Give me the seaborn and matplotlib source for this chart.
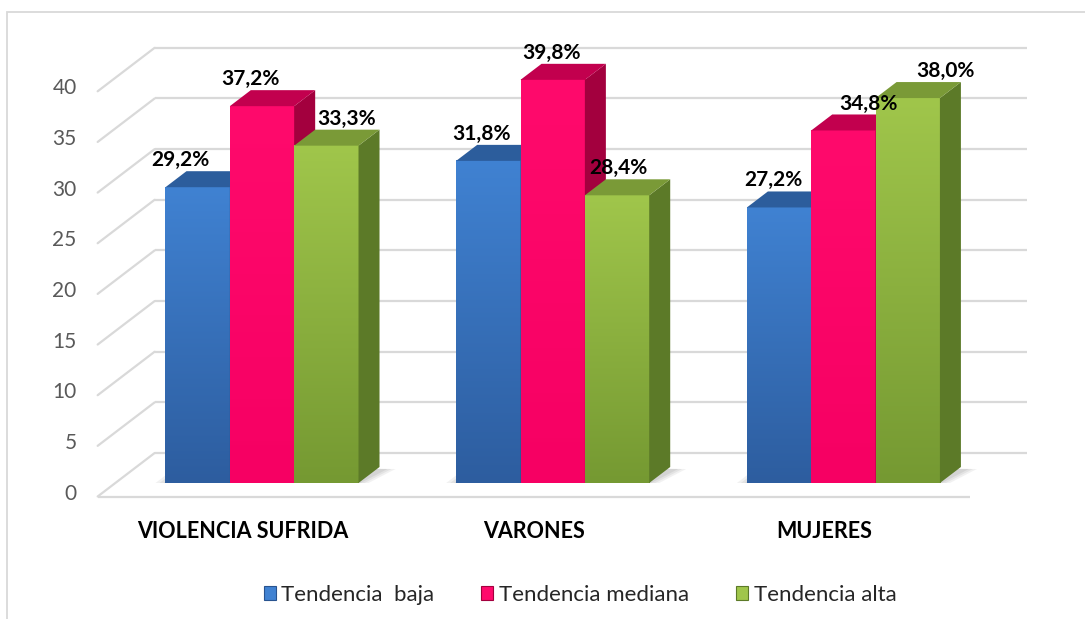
"""
Recreate the 3D-style grouped bar chart (tendencias de violencia) with seaborn.
"""
import matplotlib
matplotlib.use('Agg')
import numpy as np
import pandas as pd
import matplotlib.pyplot as plt
import seaborn as sns
from matplotlib.patches import Polygon, Patch, Rectangle
from matplotlib.colors import LinearSegmentedColormap

# data
grupos = ["VIOLENCIA SUFRIDA", "VARONES", "MUJERES"]
tendencias = ["Tendencia  baja", "Tendencia mediana", "Tendencia alta"]
baja = [29.2, 31.8, 27.2]
mediana = [37.2, 39.8, 34.8]
alta = [33.3, 28.4, 38.0]
yticks = [0, 5, 10, 15, 20, 25, 30, 35, 40]

df = pd.DataFrame({
    'grupo': grupos * 3,
    'tendencia': np.repeat(tendencias, 3),
    'valor': baja + mediana + alta,
})

# colours per series: (front top, front bottom, side, top face)
estilos = [
    ('#4082d2', '#2d5d9f', '#28538f', '#2c5d9c'),
    ('#ff0a6c', '#f60063', '#a3003e', '#c2004e'),
    ('#a0c64b', '#759932', '#5c7a28', '#7a9a37'),
]
paleta = ['#3a78c9', '#ff0066', '#8db441']
GRID = '#d9d9d9'

# small horizontal nudges (px) of the value labels, bar order left to right
nudge_px = [-17, -12, 20, -7, -1, 1, -6, 25, 38]

sns.set_style('white')
plt.rcParams['font.family'] = ['Lato', 'DejaVu Sans']

W, H = 1085, 619
fig = plt.figure(figsize=(W / 100, H / 100), dpi=100)
ax = fig.add_axes([0, 0, 1, 1])

sns.barplot(data=df, x='grupo', y='valor', hue='tendencia', order=grupos,
            hue_order=tendencias, palette=paleta, width=0.664, saturation=1,
            errorbar=None, legend=False, ax=ax)

# pixel mapping of the bar plane
X0_PX, Y0_PX = 262, 483
SX, SY = 290.7, 10.13
ax.set_xlim(-X0_PX / SX, (W - X0_PX) / SX)
ax.set_ylim(-(H - Y0_PX) / SY, Y0_PX / SY)
ax.axis('off')

# depth offsets in pixels (x right, y up)
BAR_D = (21, 16)
FRONT = (-19, -13.5)
BACK = (38, 30)


def shift(x, y, off):
    return x + off[0] / SX, y + off[1] / SY


# walls and gridlines
for v in yticks:
    bx0, by = shift(-0.5, v, BACK)
    bx1, _ = shift(2.5, v, BACK)
    fx, fy = shift(-0.5, v, FRONT)
    ax.plot([bx0, bx1], [by, by], color=GRID, lw=1.6, zorder=1,
            solid_capstyle='butt')
    ax.plot([fx, bx0], [fy, by], color=GRID, lw=1.6, zorder=1)
    ax.text(fx - 21 / SX, fy + 3 / SY, str(v), ha='right', va='center',
            fontsize=15, color='#595959')

fx0, fy0 = shift(-0.5, 0, FRONT)
fx1, _ = shift(2.5, 0, FRONT)
ax.plot([fx0, fx1], [fy0, fy0], color=GRID, lw=1.6, zorder=1,
        solid_capstyle='butt')

# 3D faces on top of seaborn bars
bars = sorted(list(ax.patches), key=lambda p: p.get_x())
dx, dy = BAR_D[0] / SX, BAR_D[1] / SY
grad = np.linspace(0, 1, 256).reshape(-1, 1)

for i, p in enumerate(bars):
    top_c, bot_c, side_c, tface_c = estilos[i % 3]
    x0, w, h = p.get_x(), p.get_width(), p.get_height()
    z = 3 + i * 0.1
    p.set_zorder(z)
    p.set_linewidth(0)

    # soft floor shadow around each group
    if i % 3 == 2:
        gx0 = bars[i - 2].get_x()
        for k, a in enumerate([0.10, 0.12, 0.14]):
            e = 10 - 4 * k
            sh = Polygon([(gx0 - e / SX, 0), (x0 + w + e / SX, 0),
                          (x0 + w + dx + (e + 6) / SX, dy - 2 / SY),
                          (gx0 + dx - e / SX, dy)],
                         fc='#7f7f7f', alpha=a, lw=0, zorder=2)
            ax.add_patch(sh)

    cmap = LinearSegmentedColormap.from_list('g%d' % i, [bot_c, top_c])
    ax.imshow(grad, extent=[x0, x0 + w, 0, h], origin='lower', cmap=cmap,
              aspect='auto', zorder=z + 0.01, interpolation='bicubic')

    side = Polygon([(x0 + w, 0), (x0 + w + dx, dy), (x0 + w + dx, h + dy),
                    (x0 + w, h)], fc=side_c, lw=0, zorder=z + 0.02)
    top = Polygon([(x0, h), (x0 + dx, h + dy), (x0 + w + dx, h + dy),
                   (x0 + w, h)], fc=tface_c, lw=0, zorder=z + 0.03)
    ax.add_patch(side)
    ax.add_patch(top)

    etiqueta = f"{h:.1f}%".replace('.', ',')
    ax.text(x0 + w / 2 + nudge_px[i] / SX, h + dy + 1 / SY, etiqueta,
            ha='center', va='bottom', fontsize=15, fontweight='bold',
            color='black', zorder=10)

ax.set_xlim(-X0_PX / SX, (W - X0_PX) / SX)
ax.set_ylim(-(H - Y0_PX) / SY, Y0_PX / SY)

# category labels on the front plane
for i, g in enumerate(grupos):
    cx, cy = shift(i, 0, FRONT)
    ax.text(cx, cy - 35.5 / SY, g, ha='center', va='center', fontsize=15.5,
            fontweight='bold', color='black')

# legend
handles = [Patch(facecolor=c[0], edgecolor=c[2], lw=0.8) for c in estilos]
ax.legend(handles, tendencias, loc='center', ncol=3, frameon=False,
          bbox_to_anchor=(580 / W, 1 - 595 / H), bbox_transform=fig.transFigure,
          fontsize=16, handlelength=0.55, handleheight=0.55, handletextpad=0.25,
          columnspacing=2.1)

# chart border
fig.add_artist(Rectangle((7 / W, -0.05), 1.2, 1 - 12 / H + 0.05,
                         transform=fig.transFigure, fill=False, ec=GRID,
                         lw=1.3))

fig.savefig('out.png', dpi=100)
